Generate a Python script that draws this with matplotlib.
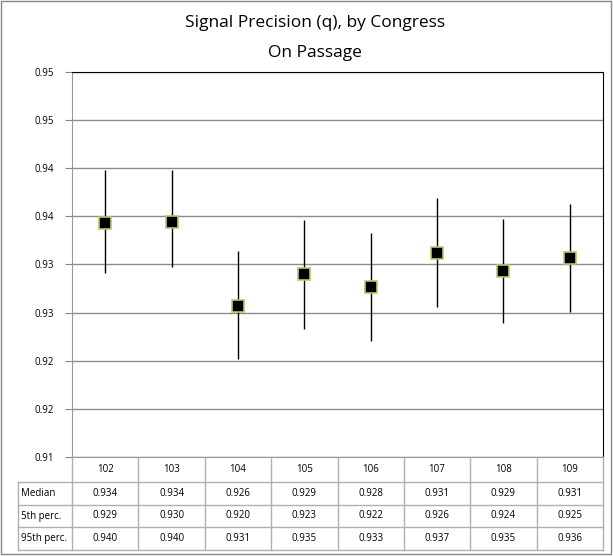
import matplotlib
matplotlib.use("Agg")
import matplotlib.pyplot as plt
from matplotlib.lines import Line2D
from matplotlib.patches import Rectangle

congress = ["102", "103", "104", "105", "106", "107", "108", "109"]
median = [0.9343, 0.9344, 0.9257, 0.9290, 0.9277, 0.9312, 0.9293, 0.9307]
p5 = [0.9291, 0.9297, 0.9202, 0.9233, 0.9221, 0.9256, 0.9239, 0.9251]
p95 = [0.9398, 0.9398, 0.9314, 0.9346, 0.9333, 0.9369, 0.9347, 0.9363]
row_names = ["Median", "5th perc.", "95th perc."]
ytick_vals = [0.910, 0.915, 0.920, 0.925, 0.930, 0.935, 0.940, 0.945, 0.950]
ytick_labels = ["0.91", "0.92", "0.92", "0.93", "0.93", "0.94", "0.94", "0.95", "0.95"]

W, H = 613, 556
font = "Open Sans"

fig = plt.figure(figsize=(W / 100, H / 100), dpi=100)

def px(x, y):
    # pixel position (from top-left) -> figure fraction
    return x / W, 1 - y / H

left, right, top, bottom = 72, 603, 72, 457
ax = fig.add_axes([left / W, 1 - bottom / H, (right - left) / W, (bottom - top) / H])

xs = [i + 0.5 for i in range(len(congress))]
lower = [m - lo for m, lo in zip(median, p5)]
upper = [hi - m for m, hi in zip(median, p95)]
ax.errorbar(xs, median, yerr=[lower, upper], fmt="none", ecolor="black", elinewidth=1, capsize=0, zorder=3)
ax.plot(xs, median, linestyle="none", marker="s", markersize=8.5, markerfacecolor="black",
        markeredgecolor="#b5c96a", markeredgewidth=1.2, zorder=4)

ax.set_xlim(0, len(congress))
ax.set_ylim(0.910, 0.950)
ax.set_yticks(ytick_vals)
ax.set_yticklabels(ytick_labels, fontsize=7, family=font)
ax.set_xticks([])
ax.tick_params(axis="y", length=5, color="#888888", pad=8)
ax.grid(axis="y", color="#8c8c8c", linewidth=1)
ax.set_axisbelow(True)
for s in ["top", "right"]:
    ax.spines[s].set_color("black")
for s in ["left", "bottom"]:
    ax.spines[s].set_color("#999999")

# title
fig.text(*px(315, 23), "Signal Precision (q), by Congress", ha="center", va="center",
         fontsize=12.5, family=font)
fig.text(*px(315, 53), "On Passage", ha="center", va="center", fontsize=12.5, family=font)

# data table under the plot
col_w = (right - left) / len(congress)
row_edges = [457, 482, 505, 527, 550]
grid_col = "#b0b0b0"

def hline(x0, x1, y):
    fig.add_artist(Line2D([x0 / W, x1 / W], [1 - y / H, 1 - y / H], color=grid_col, lw=1))

def vline(x, y0, y1):
    fig.add_artist(Line2D([x / W, x / W], [1 - y0 / H, 1 - y1 / H], color=grid_col, lw=1))

for y in row_edges[1:]:
    hline(18, right, y)
for i in range(len(congress) + 1):
    vline(left + i * col_w, row_edges[0], row_edges[-1])
vline(18, row_edges[1], row_edges[-1])

for i, c in enumerate(congress):
    cx = left + (i + 0.5) * col_w
    fig.text(*px(cx, (row_edges[0] + row_edges[1]) / 2), c, ha="center", va="center",
             fontsize=7, family=font)

for r, (name, vals) in enumerate(zip(row_names, [median, p5, p95])):
    cy = (row_edges[r + 1] + row_edges[r + 2]) / 2
    fig.text(*px(21, cy), name, ha="left", va="center", fontsize=7, family=font)
    for i, v in enumerate(vals):
        cx = left + (i + 0.5) * col_w
        fig.text(*px(cx, cy), f"{v:.3f}", ha="center", va="center", fontsize=7, family=font)

# outer chart border
fig.add_artist(Rectangle((0.5 / W, 2 / H), (W - 3) / W, (H - 3) / H, transform=fig.transFigure,
                         fill=False, edgecolor="#888888", lw=1))

fig.savefig("out.png", dpi=100)
